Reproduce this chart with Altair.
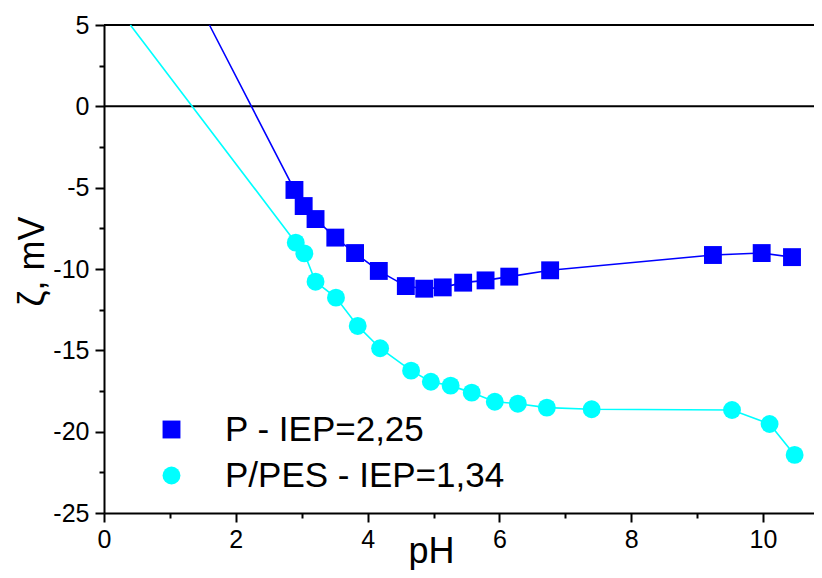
import altair as alt
import pandas as pd

# ---- data ----
series = ["P - IEP=2,25", "P/PES - IEP=1,34"]
colors = ["#0000ff", "#00ffff"]
shapes = ["square", "circle"]

p_ph = [2.89, 3.03, 3.21, 3.51, 3.81, 4.17, 4.58, 4.86, 5.14, 5.45, 5.79, 6.15, 6.77, 9.24, 9.98, 10.44]
p_zeta = [-5.14, -6.13, -6.93, -8.07, -9.02, -10.12, -11.05, -11.21, -11.13, -10.84, -10.70, -10.47, -10.08, -9.14, -9.02, -9.27]

pes_ph = [2.91, 3.04, 3.21, 3.52, 3.85, 4.19, 4.66, 4.96, 5.26, 5.58, 5.93, 6.28, 6.72, 7.40, 9.53, 10.10, 10.48]
pes_zeta = [-8.38, -9.04, -10.78, -11.76, -13.50, -14.87, -16.25, -16.93, -17.17, -17.60, -18.16, -18.28, -18.52, -18.62, -18.67, -19.53, -21.43]

# extrapolated line starts (where the fitted line leaves the top of the frame)
p_line_start_ph, p_line_start_zeta = 1.60, 5.0
pes_line_start_ph, pes_line_start_zeta = 0.40, 5.0

hlines = [5, 0]
x_ticks = list(range(0, 11))
y_ticks = [-25 + 2.5 * i for i in range(13)]

# ---- tables ----
pts = pd.DataFrame(
    [{"series": series[0], "ph": a, "zeta": b} for a, b in zip(p_ph, p_zeta)]
    + [{"series": series[1], "ph": a, "zeta": b} for a, b in zip(pes_ph, pes_zeta)]
)
p_line = pd.DataFrame({"ph": [p_line_start_ph] + p_ph, "zeta": [p_line_start_zeta] + p_zeta})
pes_line = pd.DataFrame({"ph": [pes_line_start_ph] + pes_ph, "zeta": [pes_line_start_zeta] + pes_zeta})
hl = pd.DataFrame({"y": hlines})

FONT = "Liberation Sans"
W, H = 710, 488
xmax = W / 65.9

xscale = alt.Scale(domain=[0, xmax], nice=False, zero=False)
yscale = alt.Scale(domain=[-25, 5], nice=False, zero=False)

xaxis = alt.Axis(
    values=x_ticks,
    labelExpr="datum.value % 2 === 0 ? '' + datum.value : ''",
    tickSize={"condition": {"test": "datum.value % 2 === 0", "value": 9}, "value": 5},
    grid=False,
    title="pH",
    titleFontSize=36,
    titleFont=FONT,
    titleFontWeight="normal",
    titleX=327,
    titleY=49,
    titleBaseline="alphabetic",
    titleAnchor="start",
    titleAlign="center",
    labelFontSize=25,
    labelFont=FONT,
    labelPadding=5,
    labelOverlap=False,
    labelFlush=False,
)
yaxis = alt.Axis(
    values=y_ticks,
    labelExpr="datum.value % 5 === 0 ? '' + datum.value : ''",
    tickSize={"condition": {"test": "datum.value % 5 === 0", "value": 9}, "value": 5},
    grid=False,
    title="ζ, mV",
    titleFontSize=36,
    titleFont=FONT,
    titleFontWeight="normal",
    titleX=-61,
    titleY=236,
    titleBaseline="alphabetic",
    titleAlign="center",
    labelFontSize=25,
    labelFont=FONT,
    labelPadding=6,
    labelOverlap=False,
    labelFlush=False,
)

rules = alt.Chart(hl).mark_rule(color="black", strokeWidth=2).encode(
    y=alt.Y("y:Q", scale=yscale, axis=yaxis)
)

def line_chart(df, col):
    return alt.Chart(df).mark_line(strokeWidth=1.6, color=col).encode(
        x=alt.X("ph:Q", scale=xscale, axis=xaxis),
        y=alt.Y("zeta:Q", scale=yscale, axis=yaxis),
        order=alt.Order("ph:Q"),
    )

point_layer = alt.Chart(pts).mark_point(filled=True, size=320, opacity=1).encode(
    x=alt.X("ph:Q", scale=xscale, axis=xaxis),
    y=alt.Y("zeta:Q", scale=yscale, axis=yaxis),
    color=alt.Color("series:N", scale=alt.Scale(domain=series, range=colors), legend=alt.Legend(title=None)),
    shape=alt.Shape("series:N", scale=alt.Scale(domain=series, range=shapes), legend=alt.Legend(title=None)),
)

chart = (
    alt.layer(rules, line_chart(p_line, colors[0]), line_chart(pes_line, colors[1]), point_layer)
    .properties(
        width=W,
        height=H,
        autosize=alt.AutoSizeParams(type="none"),
        padding={"left": 96, "top": 17, "right": 0, "bottom": 57},
    )
    .configure_view(stroke=None)
    .configure_axis(domainColor="black", domainWidth=2, tickColor="black", tickWidth=2, labelColor="black", titleColor="black")
    .configure_legend(
        orient="none",
        legendX=50,
        legendY=387,
        labelFontSize=35,
        labelFont=FONT,
        labelColor="black",
        labelLimit=0,
        symbolSize=320,
        symbolOpacity=1,
        symbolStrokeWidth=0,
        labelOffset=36,
        rowPadding=10,
        padding=0,
    )
)

chart.save("out.html", embed_options={"renderer": "svg", "actions": False})
